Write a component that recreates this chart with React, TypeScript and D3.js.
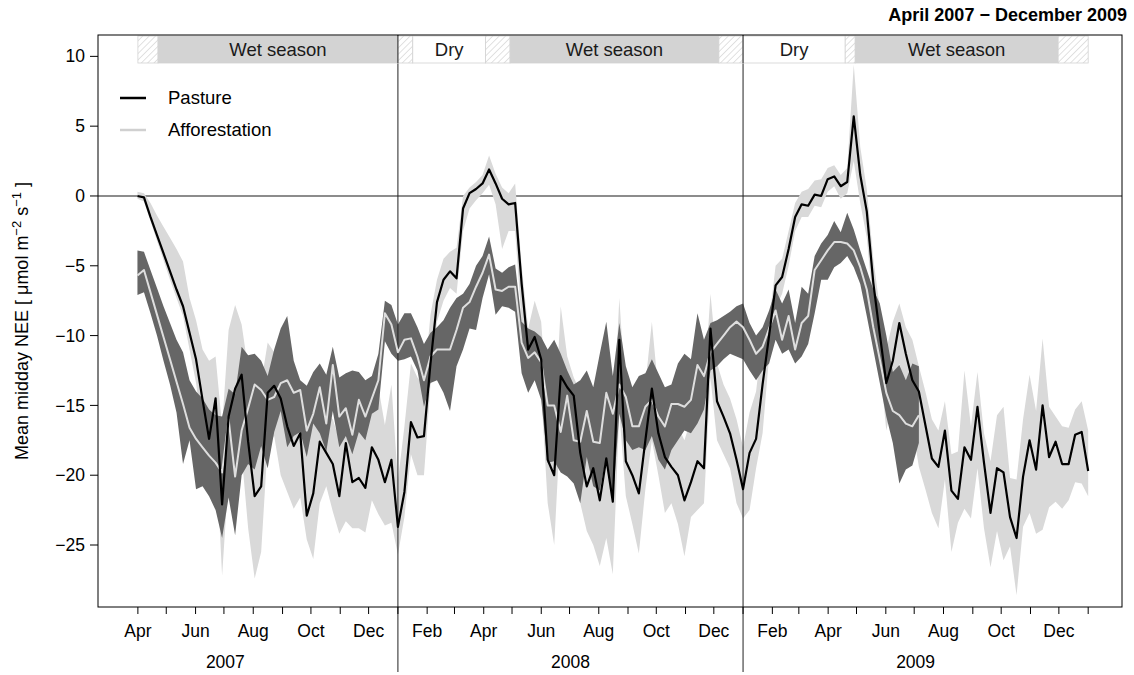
import React, { useEffect } from "react";
import * as d3 from "d3";

// Weekly samples: 53 bins per year, first bin is week 13 of 2007
const FIRST_WEEK = 13;
const WEEKS_PER_YEAR = 53;

// Pasture: mean midday NEE and confidence band
const pastureMean = [
  0.0, -0.1, -1.5, -2.8, -4.1, -5.4, -6.7, -7.9, -9.8, -11.7,
  -14.6, -17.4, -14.5, -22.1, -15.8, -13.8, -12.8, -17.6, -21.5, -20.8,
  -14.1, -13.6, -14.5, -16.5, -17.9, -17.0, -22.9, -21.3, -17.6, -18.4,
  -19.2, -21.5, -17.7, -20.5, -20.2, -20.9, -18.0, -18.9, -20.5, -18.9,
  -23.7, -21.2, -16.2, -17.3, -17.2, -12.0, -7.6, -6.0, -5.4, -5.9,
  -0.9, 0.2, 0.5, 0.9, 1.9, 0.9, -0.2, -0.6, -0.5, -6.3,
  -11.0, -10.1, -11.7, -18.9, -20.0, -12.9, -13.7, -14.3, -18.4, -20.8,
  -19.5, -21.8, -18.8, -21.9, -10.3, -19.0, -20.0, -21.3, -17.5, -13.8,
  -17.0, -18.7, -19.4, -20.0, -21.8, -20.5, -19.0, -19.5, -9.5, -14.7,
  -15.8, -17.0, -18.9, -21.0, -18.4, -17.4, -13.5, -10.0, -6.4, -5.8,
  -3.8, -1.5, -0.6, -0.7, 0.1, 0.0, 1.2, 1.4, 0.7, 1.0,
  5.7, 1.5, -1.1, -6.2, -9.9, -13.4, -11.8, -9.1, -11.3, -13.2,
  -14.0, -16.4, -18.8, -19.4, -16.8, -21.1, -21.7, -18.0, -18.9, -15.1,
  -19.1, -22.7, -19.5, -19.8, -23.0, -24.5, -20.1, -17.5, -19.6, -15.0,
  -18.7, -17.6, -19.2, -19.2, -17.1, -16.9, -19.7,
];
const pastureUpper = [
  0.3, 0.2, -0.5, -1.4, -2.2, -3.0, -3.8, -4.7, -7.3, -8.9,
  -11.0, -11.8, -11.5, -16.5, -9.6, -7.8, -9.2, -12.4, -12.6, -13.4,
  -10.5, -11.2, -13.2, -12.2, -13.6, -14.0, -17.0, -16.2, -13.5, -15.6,
  -16.0, -17.5, -13.2, -16.4, -16.8, -17.2, -14.4, -13.7, -16.4, -13.5,
  -20.4, -16.5, -12.0, -13.0, -13.5, -8.5, -6.0, -4.5, -4.0, -3.7,
  0.0, 0.6, 1.0, 1.5, 2.9, 1.6, 0.6, 0.2, 0.9, -5.0,
  -9.5, -7.5, -9.0, -15.5, -17.0, -7.9, -11.5, -13.0, -14.0, -16.5,
  -15.5, -17.5, -14.0, -17.0, -7.3, -14.5, -15.5, -17.5, -13.5, -9.0,
  -14.0, -15.0, -15.5, -16.5, -17.5, -16.0, -14.5, -14.0, -7.0, -12.0,
  -13.5, -14.5, -16.0, -18.0, -15.5, -14.0, -10.0, -9.0, -5.0, -4.5,
  -2.5, -0.5, 0.3, 0.5, 1.1, 1.2, 2.0, 2.2, 1.5, 2.0,
  9.4, 3.5, 0.5, -4.5, -8.0, -11.0, -9.0, -7.7, -9.4, -10.3,
  -12.2, -14.0, -16.0, -16.8, -14.7, -18.5, -18.3, -12.5, -16.5, -12.6,
  -17.0, -19.0, -15.7, -15.1, -20.2, -20.3, -16.0, -12.8, -15.4, -10.2,
  -15.1, -15.8, -16.5, -16.6, -15.3, -14.7, -16.8,
];
const pastureLower = [
  -0.2, -0.4, -1.8, -3.2, -4.6, -6.0, -7.3, -8.6, -11.0, -13.4,
  -16.8, -19.9, -17.8, -27.2, -20.0, -16.8, -18.5, -23.8, -27.4, -25.5,
  -17.8, -17.2, -20.0, -21.2, -22.4, -21.6, -24.6, -26.0, -22.0, -20.8,
  -22.6, -24.2, -23.3, -23.8, -23.8, -24.1, -21.8, -22.8, -23.6, -23.4,
  -25.7, -23.0, -18.5, -20.0, -20.0, -13.5, -9.0, -7.5, -6.6, -7.0,
  -2.5, -0.9, -0.3, 0.2, 0.8, -0.6, -3.8, -2.5, -2.5, -9.0,
  -12.5, -12.0, -14.0, -22.0, -25.0, -16.0, -17.0, -19.5, -22.0, -24.0,
  -25.0, -26.5, -24.5, -27.1, -15.5, -21.5, -23.5, -25.6, -21.0, -17.5,
  -20.0, -22.7, -22.0, -23.5, -25.8, -23.0, -22.5, -22.0, -13.0, -17.5,
  -18.5, -19.5, -22.0, -23.1, -22.5, -19.5, -17.0, -11.5, -8.0, -7.0,
  -5.0, -2.5, -1.5, -1.5, -0.7, -0.8, 0.3, 0.7, -0.2, 0.2,
  2.5, -0.5, -3.0, -8.0, -12.0, -16.8, -14.5, -12.0, -14.0, -16.5,
  -19.4, -21.0, -22.7, -23.8, -20.3, -25.5, -23.4, -22.4, -23.1, -19.5,
  -23.8, -26.6, -24.0, -26.1, -25.1, -28.6, -23.7, -22.7, -24.2, -23.9,
  -22.3, -21.9, -22.4, -21.8, -20.5, -20.6, -21.5,
];

// Afforestation: mean midday NEE and confidence band (record ends mid 2009)
const afforestMean = [
  -5.7, -5.3, -6.9, -8.5, -10.1, -11.7, -13.3, -14.9, -16.6, -17.4,
  -18.0, -18.6, -19.1, -19.8, -16.0, -20.1, -16.8, -15.2, -13.5, -13.9,
  -14.6, -14.4, -13.4, -13.2, -14.1, -13.9, -16.8, -15.6, -13.7, -16.3,
  -12.1, -15.8, -15.2, -17.1, -14.6, -15.8, -14.5, -13.2, -8.4, -9.2,
  -11.2, -10.3, -10.2, -11.5, -13.2, -11.5, -11.0, -11.0, -11.0, -9.6,
  -8.0, -7.6, -6.5, -5.5, -4.2, -6.7, -6.8, -6.5, -6.5, -10.5,
  -11.6, -11.2, -11.9, -15.0, -15.0, -16.9, -14.3, -17.5, -17.6, -15.4,
  -17.6, -17.7, -14.1, -15.6, -13.5, -14.4, -16.5, -16.5, -15.1, -14.6,
  -15.8, -16.5, -14.9, -14.9, -15.1, -14.6, -12.1, -12.9, -11.2, -10.6,
  -10.0, -9.4, -9.0, -9.4, -10.3, -11.3, -10.8, -9.5, -8.2, -10.3,
  -8.6, -11.0, -9.1, -8.6, -5.3, -4.6, -3.9, -3.3, -3.3, -3.4,
  -3.9, -5.1, -6.7, -9.4, -11.7, -14.1, -15.4, -15.7, -16.3, -16.5,
  -15.7,
];
const afforestUpper = [
  -3.9, -4.0, -5.3, -6.6, -7.9, -9.1, -10.3, -11.2, -13.2, -14.0,
  -14.5, -15.3, -15.7, -15.8, -13.8, -14.2, -10.8, -11.4, -11.3, -11.8,
  -12.9, -11.0, -9.5, -8.6, -11.8, -13.2, -13.6, -12.6, -12.0, -12.8,
  -10.8, -13.0, -12.7, -12.5, -12.6, -13.2, -12.9, -11.3, -7.5, -7.8,
  -9.2, -8.4, -8.4, -9.4, -10.6, -9.8, -9.4, -8.9, -8.0, -7.3,
  -7.0, -6.3, -5.0, -4.3, -2.9, -5.2, -5.5, -5.1, -4.9, -9.0,
  -9.5, -9.7, -10.1, -11.0, -10.3, -11.3, -12.5, -13.5, -13.2, -12.5,
  -13.7, -11.3, -9.0, -12.9, -9.1, -12.2, -13.7, -12.9, -12.7, -11.7,
  -12.7, -13.7, -13.5, -12.0, -11.3, -11.7, -8.4, -10.3, -9.1, -8.9,
  -8.6, -8.3, -7.9, -7.7, -9.1, -10.0, -9.4, -8.2, -6.7, -7.7,
  -6.7, -9.1, -6.5, -7.0, -4.3, -3.4, -2.8, -1.8, -2.6, -1.2,
  -2.4, -3.9, -5.3, -6.7, -7.7, -10.0, -12.6, -12.1, -13.2, -12.0,
  -12.2,
];
const afforestLower = [
  -7.1, -6.9, -8.4, -10.0, -11.8, -13.5, -15.5, -19.2, -17.5, -21.0,
  -20.8, -21.5, -22.5, -24.5, -21.6, -24.3, -20.0, -19.2, -19.6, -17.9,
  -19.5, -16.9, -15.4, -18.0, -17.2, -16.9, -18.7, -16.3, -17.0, -18.3,
  -15.4, -18.0, -17.2, -18.5, -16.9, -17.5, -15.6, -15.3, -10.4, -11.3,
  -11.8, -11.7, -11.5, -12.5, -15.1, -13.4, -13.2, -14.1, -15.4, -12.2,
  -11.0, -9.5, -9.6, -7.3, -5.6, -8.5, -7.9, -8.0, -8.3, -12.7,
  -14.1, -13.2, -14.6, -19.1, -19.0, -19.8, -20.1, -20.6, -22.0, -18.7,
  -20.8, -21.1, -18.7, -21.8, -15.6, -17.5, -18.2, -18.0, -18.2, -17.2,
  -18.9, -19.6, -18.2, -17.5, -16.8, -17.0, -16.3, -15.3, -12.5, -12.2,
  -11.7, -11.3, -11.5, -11.7, -12.5, -13.2, -12.5, -12.0, -10.3, -11.3,
  -11.0, -12.0, -11.5, -10.6, -8.4, -6.0, -6.0, -5.1, -4.8, -4.3,
  -5.1, -6.3, -8.6, -11.0, -13.4, -15.8, -17.7, -20.6, -19.6, -19.3,
  -17.7,
];

// Axis ticks and labels
const yTicks = [10, 5, 0, -5, -10, -15, -20, -25];
const monthAbbr = ["Jan", "Feb", "Mar", "Apr", "May", "Jun", "Jul", "Aug", "Sep", "Oct", "Nov", "Dec"];
const years = [2007, 2008, 2009];
const yearDividers = [2008, 2009];

// Season bar (decimal years)
const seasonKind = ["transition", "wet", "transition", "dry", "transition", "wet", "transition", "dry", "transition", "wet", "transition"];
const seasonFrom = [2007.2466, 2007.305, 2008.0, 2008.043, 2008.254, 2008.325, 2008.93, 2009.0, 2009.296, 2009.325, 2009.913];
const seasonTo = [2007.305, 2008.0, 2008.043, 2008.254, 2008.325, 2008.93, 2009.0, 2009.296, 2009.325, 2009.913, 2010.0];
const seasonLabel: Record<string, string> = { wet: "Wet season", dry: "Dry", transition: "" };

const legendItems = [
  { label: "Pasture", color: "#000000" },
  { label: "Afforestation", color: "#d0d0d0" },
];

const FONT = "'Liberation Sans', Arial, Helvetica, sans-serif";
const W = 1134;
const H = 675;
const PLOT = { left: 98, right: 1122, top: 35, bottom: 607 };

type Row = { t: number; m: number; lo: number; hi: number };

function decimalYear(y: number, m: number, d = 1): number {
  const a = Date.UTC(y, 0, 1);
  const b = Date.UTC(y + 1, 0, 1);
  return y + (Date.UTC(y, m, d) - a) / (b - a);
}

const sampleTime = (i: number) => 2007 + (FIRST_WEEK + i) / WEEKS_PER_YEAR;

export default function App() {
  useEffect(() => {
    document.body.style.margin = "0";
  }, []);

  const x = d3.scaleLinear().domain([2007.131, 2010.098]).range([PLOT.left, PLOT.right]);
  const y = d3.scaleLinear().domain([-29.44, 11.53]).range([PLOT.bottom, PLOT.top]);

  const pasture: Row[] = pastureMean.map((m, i) => ({ t: sampleTime(i), m, lo: pastureLower[i], hi: pastureUpper[i] }));
  const afforest: Row[] = afforestMean.map((m, i) => ({ t: sampleTime(i), m, lo: afforestLower[i], hi: afforestUpper[i] }));

  const band = d3.area<Row>().x((d) => x(d.t)).y0((d) => y(d.lo)).y1((d) => y(d.hi));
  const line = d3.line<Row>().x((d) => x(d.t)).y((d) => y(d.m));

  // monthly ticks from Apr 2007 to Jan 2010
  const months: { t: number; m: number }[] = [];
  for (let yy = 2007; yy <= 2010; yy++) {
    for (let mm = 0; mm < 12; mm++) {
      if (yy === 2007 && mm < 3) continue;
      if (yy === 2010 && mm > 0) continue;
      months.push({ t: decimalYear(yy, mm), m: mm });
    }
  }

  const barTop = 36;
  const barBottom = 63;
  const tickFont = 17.5;

  return (
    <svg width={W} height={H} style={{ display: "block", background: "#fff" }} fontFamily={FONT}>
      <defs>
        <pattern id="hatch" width="4.5" height="4.5" patternUnits="userSpaceOnUse" patternTransform="rotate(45)">
          <rect width="4.5" height="4.5" fill="#ffffff" />
          <line x1="0" y1="0" x2="0" y2="4.5" stroke="#c4c4c4" strokeWidth="1" />
        </pattern>
      </defs>

      {/* title */}
      <text x={1127} y={21} textAnchor="end" fontWeight="bold" fontSize={18} fill="#000">
        April 2007 − December 2009
      </text>

      {/* zero reference */}
      <line x1={PLOT.left} x2={PLOT.right} y1={y(0)} y2={y(0)} stroke="#666" strokeWidth={1.6} />

      {/* confidence bands */}
      <path d={band(pasture) ?? ""} fill="#d9d9d9" stroke="none" />
      <path d={band(afforest) ?? ""} fill="#666666" stroke="none" />

      {/* year dividers */}
      {yearDividers.map((yr) => (
        <line key={yr} x1={x(yr)} x2={x(yr)} y1={PLOT.top} y2={672} stroke="#222" strokeWidth={1} />
      ))}

      {/* mean lines */}
      <path d={line(afforest) ?? ""} fill="none" stroke="#dedede" strokeWidth={2} strokeLinejoin="round" />
      <path d={line(pasture) ?? ""} fill="none" stroke="#000" strokeWidth={2.2} strokeLinejoin="round" />

      {/* season bar */}
      {seasonKind.map((k, i) => {
        const x0 = x(seasonFrom[i]);
        const x1 = x(seasonTo[i]);
        const fill = k === "wet" ? "#d3d3d3" : k === "dry" ? "#ffffff" : "url(#hatch)";
        return (
          <g key={i}>
            <rect x={x0} y={barTop} width={x1 - x0} height={barBottom - barTop} fill={fill} stroke="#d3d3d3" strokeWidth={0.8} />
            {seasonLabel[k] && (
              <text x={(x0 + x1) / 2} y={(barTop + barBottom) / 2} dy="0.35em" textAnchor="middle" fontSize={18.5} fill="#1a1a1a">
                {seasonLabel[k]}
              </text>
            )}
          </g>
        );
      })}
      {yearDividers.map((yr) => (
        <line key={"d" + yr} x1={x(yr)} x2={x(yr)} y1={PLOT.top} y2={barBottom} stroke="#222" strokeWidth={1} />
      ))}

      {/* plot frame */}
      <rect x={PLOT.left} y={PLOT.top} width={PLOT.right - PLOT.left} height={PLOT.bottom - PLOT.top} fill="none" stroke="#000" strokeWidth={1} />

      {/* y axis */}
      {yTicks.map((v) => (
        <g key={v}>
          <line x1={PLOT.left - 8} x2={PLOT.left} y1={y(v)} y2={y(v)} stroke="#000" />
          <text x={PLOT.left - 13} y={y(v)} dy="0.35em" textAnchor="end" fontSize={tickFont}>
            {v < 0 ? "−" + Math.abs(v) : String(v)}
          </text>
        </g>
      ))}
      <text transform={`translate(22,${(PLOT.top + PLOT.bottom) / 2}) rotate(-90)`} textAnchor="middle" fontSize={18} dy="0.35em">
        Mean midday NEE [ μmol m
        <tspan fontSize={13} dy={-7}>−2</tspan>
        <tspan dy={7}> s</tspan>
        <tspan fontSize={13} dy={-7}>−1</tspan>
        <tspan dy={7}> ]</tspan>
      </text>

      {/* x axis */}
      {months.map((d, i) => (
        <g key={i}>
          <line x1={x(d.t)} x2={x(d.t)} y1={PLOT.bottom} y2={PLOT.bottom + 7} stroke="#000" />
          {d.m % 2 === 1 && (
            <text x={x(d.t)} y={637} textAnchor="middle" fontSize={tickFont}>
              {monthAbbr[d.m]}
            </text>
          )}
        </g>
      ))}
      {years.map((yr) => (
        <text key={yr} x={x(yr + 0.5)} y={668} textAnchor="middle" fontSize={tickFont}>
          {yr}
        </text>
      ))}

      {/* legend */}
      {legendItems.map((it, i) => (
        <g key={it.label}>
          <line x1={120} x2={146} y1={98 + i * 32} y2={98 + i * 32} stroke={it.color} strokeWidth={2.5} />
          <text x={168} y={98 + i * 32} dy="0.35em" fontSize={18.5}>
            {it.label}
          </text>
        </g>
      ))}
    </svg>
  );
}
